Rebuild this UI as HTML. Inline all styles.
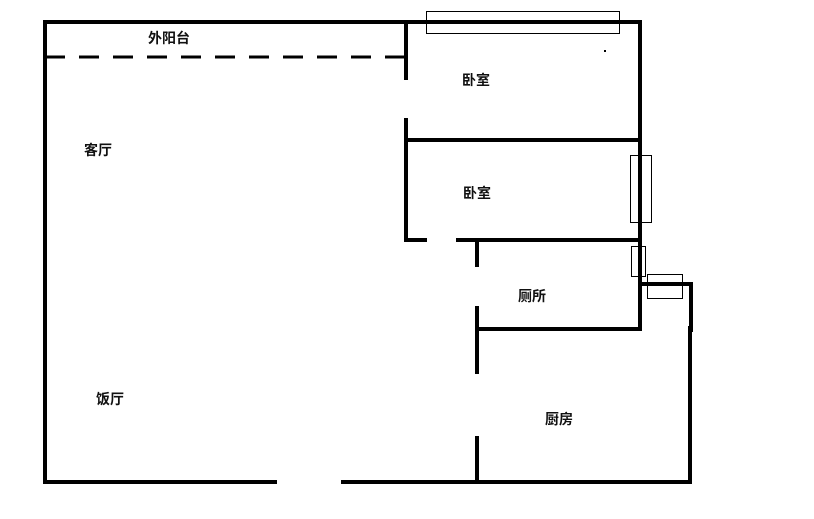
<!DOCTYPE html>
<html><head><meta charset="utf-8"><style>
html,body{margin:0;padding:0;background:#fff;}
svg{display:block;}
text{font-family:"Liberation Sans","Noto Sans CJK SC",sans-serif;font-size:14px;font-weight:bold;fill:#111;}
</style></head><body>
<svg width="814" height="519" viewBox="0 0 814 519" xmlns="http://www.w3.org/2000/svg">
<g stroke="#000" stroke-width="4" fill="none" stroke-linecap="square">
<line x1="45" y1="22" x2="640" y2="22"/>
<line x1="45" y1="22" x2="45" y2="482"/>
<line x1="45" y1="482" x2="275" y2="482"/>
<line x1="343" y1="482" x2="690" y2="482"/>
<line x1="640" y1="22" x2="640" y2="329"/>
<line x1="406" y1="22" x2="406" y2="78"/>
<line x1="406" y1="120" x2="406" y2="240"/>
<line x1="406" y1="140" x2="640" y2="140"/>
<line x1="406" y1="240" x2="425" y2="240"/>
<line x1="458" y1="240" x2="640" y2="240"/>
<line x1="477" y1="240" x2="477" y2="265"/>
<line x1="477" y1="308" x2="477" y2="372"/>
<line x1="477" y1="438" x2="477" y2="482"/>
<line x1="477" y1="329" x2="640" y2="329"/>
<line x1="640" y1="284" x2="691" y2="284"/>
<line x1="691" y1="284" x2="691" y2="330"/>
<line x1="690" y1="328" x2="690" y2="482"/>
</g>
<line x1="45" y1="57" x2="406" y2="57" stroke="#000" stroke-width="3" stroke-dasharray="20,14"/>
<g stroke="#000" stroke-width="1" fill="none">
<rect x="426.5" y="11.5" width="193" height="22"/>
<rect x="630.5" y="155.5" width="21" height="67"/>
<rect x="631.5" y="246.5" width="14" height="30"/>
<rect x="647.5" y="274.5" width="35" height="24"/>
</g>
<rect x="604" y="50" width="2" height="2" fill="#000"/>
<text x="148" y="43">外阳台</text>
<text x="84" y="155">客厅</text>
<text x="462" y="85">卧室</text>
<text x="463" y="198">卧室</text>
<text x="518" y="301">厕所</text>
<text x="545" y="424">厨房</text>
<text x="96" y="404">饭厅</text>
</svg>
</body></html>
